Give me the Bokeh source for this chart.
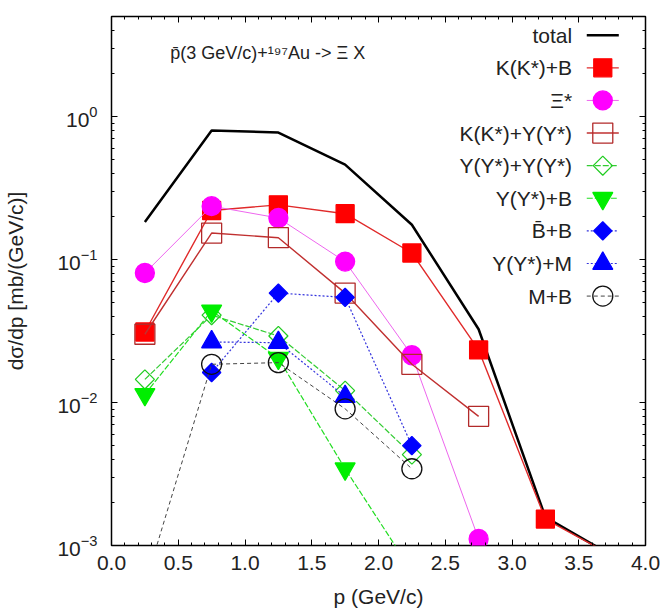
from bokeh.plotting import figure
from bokeh.models import (Range1d, LinearAxis, LogAxis, SingleIntervalTicker,
                          LogTicker, Label, ColumnDataSource, PrintfTickFormatter)
from bokeh.embed import file_html
from bokeh.resources import INLINE
from bokeh.core.properties import value
import math

# ---------------- data ----------------
p_total = [0.25, 0.75, 1.25, 1.75, 2.25, 2.75, 3.25, 3.75]
total = [0.183, 0.797, 0.772, 0.461, 0.175, 0.0325, 0.00158, 0.00085]

p_kb = [0.25, 0.75, 1.25, 1.75, 2.25, 2.75, 3.25, 3.75]
kb = [0.0311, 0.220, 0.241, 0.209, 0.111, 0.0233, 0.00153, 0.00085]

p_xi = [0.25, 0.75, 1.25, 1.75, 2.25, 2.75]
xi = [0.0804, 0.236, 0.195, 0.0966, 0.0214, 0.00111]

p_ky = [0.25, 0.75, 1.25, 1.75, 2.25, 2.75]
ky = [0.0300, 0.153, 0.142, 0.0582, 0.0185, 0.0080]

p_yy = [0.25, 0.75, 1.25, 1.75, 2.25]
yy = [0.0145, 0.0408, 0.0292, 0.0121, 0.00432]

p_yb = [0.25, 0.75, 1.25, 1.75, 2.25]
yb = [0.0114, 0.0437, 0.0204, 0.00344, 0.00066]

p_bb = [0.75, 1.25, 1.75, 2.25]
bb = [0.0162, 0.0582, 0.0543, 0.00499]

p_ym = [0.75, 1.25, 1.75]
ym = [0.0265, 0.0262, 0.0110]

p_mb = [0.25, 0.75, 1.25, 1.75, 2.25]
mb = [0.00053, 0.0185, 0.0190, 0.00903, 0.00344]

x_ticks_interval = 0.5
title_text = "p\u0304(3 GeV/c)+\u00b9\u2079\u2077Au -> \u039e X"

FONT = "Liberation Sans"
FS = "21px"

# ---------------- series styles ----------------
series = [
    dict(label="K(K*)+B", x=p_kb, y=kb, marker="square", size=18, angle=0.0,
         fill="#ff0000", mline="#ff0000", lcol="#e02a2a", lw=1.4, dash="solid"),
    dict(label="\u039e*", x=p_xi, y=xi, marker="circle", size=19, angle=0.0,
         fill="#ff00ff", mline="#ff00ff", lcol="#ee66ee", lw=1.0, dash="solid"),
    dict(label="K(K*)+Y(Y*)", x=p_ky, y=ky, marker="square", size=20, angle=0.0,
         fill=None, mline="#b22a2a", lcol="#c03030", lw=1.4, dash="solid"),
    dict(label="Y(Y*)+Y(Y*)", x=p_yy, y=yy, marker="square", size=13.5, angle=math.pi / 4,
         fill=None, mline="#22cc22", lcol="#33cc33", lw=1.2, dash="6 2"),
    dict(label="Y(Y*)+B", x=p_yb, y=yb, marker="inverted_triangle", size=20, angle=0.0,
         fill="#00ee00", mline="#00ee00", lcol="#22dd22", lw=1.2, dash="6 2"),
    dict(label="B\u0304+B", x=p_bb, y=bb, marker="square", size=13, angle=math.pi / 4,
         fill="#0000ff", mline="#0000ff", lcol="#3333dd", lw=1.2, dash="2 2"),
    dict(label="Y(Y*)+M", x=p_ym, y=ym, marker="triangle", size=20, angle=0.0,
         fill="#0000ff", mline="#0000ff", lcol="#3333dd", lw=1.2, dash="2 2"),
    dict(label="M+B", x=p_mb, y=mb, marker="circle", size=20, angle=0.0,
         fill=None, mline="#111111", lcol="#444444", lw=1.0, dash="4 3"),
]

# ---------------- figure ----------------
p = figure(width=664, height=613,
           x_range=Range1d(0, 4), y_range=Range1d(1e-3, 5),
           y_axis_type="log", output_backend="svg", toolbar_location=None,
           min_border_left=111, min_border_right=19, min_border_top=16,
           min_border_bottom=68)
p.grid.visible = False
p.outline_line_color = "black"
p.outline_line_width = 1.5
p.background_fill_color = "white"
p.border_fill_color = "white"

xax = p.xaxis[0]
xax.ticker = SingleIntervalTicker(interval=x_ticks_interval, num_minor_ticks=5)
xax.formatter = PrintfTickFormatter(format="%.1f")
xax.axis_label = "p (GeV/c)"
yax = p.yaxis[0]
yax.ticker = LogTicker(num_minor_ticks=10)
yax.axis_label = "d\u03c3/dp [mb/(GeV/c)]"

for ax in (xax, yax):
    ax.axis_line_color = None
    ax.major_tick_in = 6
    ax.major_tick_out = 0
    ax.minor_tick_in = 3
    ax.minor_tick_out = 0
    ax.major_tick_line_color = "black"
    ax.minor_tick_line_color = "black"
    ax.major_label_text_font = FONT
    ax.major_label_text_font_size = FS
    ax.major_label_text_color = "#222222"
    ax.axis_label_text_font = FONT
    ax.axis_label_text_font_size = FS
    ax.axis_label_text_font_style = "normal"
    ax.axis_label_text_color = "#222222"

xax.major_label_standoff = 10
xax.axis_label_standoff = 12
yax.major_label_standoff = 14
yax.axis_label_standoff = 27

# mirrored inside ticks (top and right), labels not drawn
top = LinearAxis(ticker=SingleIntervalTicker(interval=x_ticks_interval, num_minor_ticks=5))
right = LogAxis(ticker=LogTicker(num_minor_ticks=10))
for ax in (top, right):
    ax.axis_line_color = None
    ax.major_tick_in = 6
    ax.major_tick_out = 0
    ax.minor_tick_in = 3
    ax.minor_tick_out = 0
    ax.major_label_text_font_size = "8px"
    ax.major_label_text_color = None
    ax.major_label_text_alpha = 0
    ax.major_label_standoff = 0
p.add_layout(top, "above")
p.add_layout(right, "right")

# ---------------- data glyphs ----------------
p.line(p_total, total, line_color="black", line_width=2.5)
for s in series:
    src = ColumnDataSource(dict(x=s["x"], y=s["y"]))
    p.line("x", "y", source=src, line_color=s["lcol"], line_width=s["lw"],
           line_dash=s["dash"])
    p.scatter("x", "y", source=src, marker=s["marker"], size=s["size"],
              angle=s["angle"], fill_color=s["fill"],
              fill_alpha=1.0 if s["fill"] else 0.0,
              line_color=s["mline"], line_width=1.3)

# ---------------- legend (label on the left, sample on the right) ----------------
LEG_X = 3.68          # sample centre (data x)
LEG_HALF = 0.12       # half length of the sample line
LEG_TEXT_X = 3.45     # right edge of labels
LEG_TOP_LOG = 0.568   # log10 of first row
LEG_STEP = 0.228      # decades between rows

labels = ["total"] + [s["label"] for s in series]
rows = [10 ** (LEG_TOP_LOG - i * LEG_STEP) for i in range(len(labels))]

p.text(x=[LEG_TEXT_X] * len(labels), y=rows, text=labels,
       text_align="right", text_baseline="middle",
       text_font=value(FONT), text_font_size=FS, text_color="#222222")

p.line([LEG_X - LEG_HALF, LEG_X + LEG_HALF], [rows[0], rows[0]],
       line_color="black", line_width=2.5)
for i, s in enumerate(series, start=1):
    p.line([LEG_X - LEG_HALF, LEG_X + LEG_HALF], [rows[i], rows[i]],
           line_color=s["lcol"], line_width=s["lw"], line_dash=s["dash"])
    p.scatter([LEG_X], [rows[i]], marker=s["marker"], size=s["size"],
              angle=s["angle"], fill_color=s["fill"],
              fill_alpha=1.0 if s["fill"] else 0.0,
              line_color=s["mline"], line_width=1.3)

# ---------------- annotation ----------------
p.add_layout(Label(x=0.44, y=2.8, text=title_text, text_baseline="middle",
                   text_font=FONT, text_font_size="18px", text_color="#222222"))

open("out.html", "w").write(file_html(p, INLINE))
